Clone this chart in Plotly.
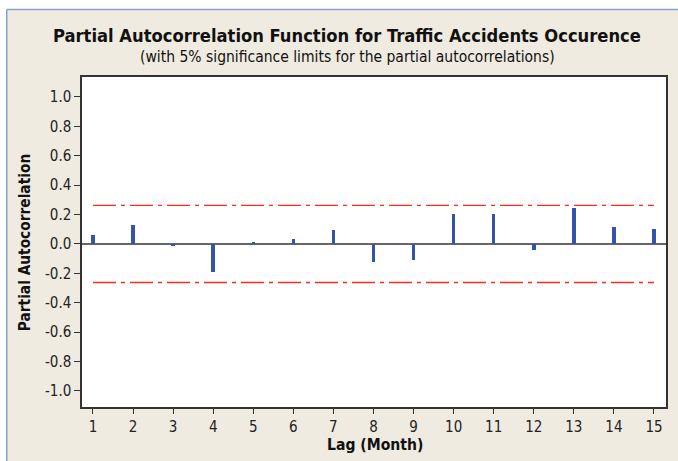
import plotly.graph_objects as go

lags = list(range(1, 16))
pacf = [0.061, 0.129, -0.016, -0.188, 0.009, 0.034, 0.093, -0.120, -0.106,
        0.203, 0.203, -0.038, 0.244, 0.118, 0.102]
sig_limit = 0.262
y_ticks = [1.0, 0.8, 0.6, 0.4, 0.2, 0.0, -0.2, -0.4, -0.6, -0.8, -1.0]
y_ticktext = ["1.0", "0.8", "0.6", "0.4", "0.2", "0.0", "-0.2", "-0.4", "-0.6", "-0.8", "-1.0"]

title = "Partial Autocorrelation Function for Traffic Accidents Occurence"
subtitle = "(with 5% significance limits for the partial autocorrelations)"
x_title = "Lag (Month)"
y_title = "Partial Autocorrelation"

FONT = "DejaVu Sans Condensed, DejaVu Sans, sans-serif"
BEIGE = "#efebe0"

fig = go.Figure()
fig.add_trace(go.Bar(x=lags, y=pacf, width=0.088,
                     marker=dict(color="#3553a8", line=dict(width=0)),
                     showlegend=False, hoverinfo="x+y"))
for s in (1, -1):
    fig.add_trace(go.Scatter(x=[lags[0], lags[-1]], y=[s * sig_limit, s * sig_limit],
                             mode="lines",
                             line=dict(color="#ff2a1a", width=1.3, dash="23px,5px,4px,5px"),
                             showlegend=False, hoverinfo="skip"))

W, H = 678, 461
L, R, T, B = 82, 10, 77, 54
pw, ph = W - L - R, H - T - B

def px(x):
    return (x - L) / pw

def py(y):
    return (H - B - y) / ph

shapes = [
    dict(type="rect", xref="paper", yref="paper", x0=px(-5), x1=px(W + 5), y0=py(9), y1=py(-5),
         fillcolor="white", line=dict(width=0), layer="below"),
    dict(type="rect", xref="paper", yref="paper", x0=px(-5), x1=px(6), y0=py(H + 5), y1=py(-5),
         fillcolor="white", line=dict(width=0), layer="below"),
    dict(type="line", xref="paper", yref="paper", x0=px(6.5), x1=px(W + 5), y0=py(9.5), y1=py(9.5),
         line=dict(color="#86a3cf", width=1.5)),
    dict(type="line", xref="paper", yref="paper", x0=px(6.5), x1=px(6.5), y0=py(9.5), y1=py(H + 5),
         line=dict(color="#86a3cf", width=1.5)),
]

annotations = [
    dict(text="<b>" + title + "</b>", x=px(348), y=py(35), xref="paper", yref="paper",
         showarrow=False, xanchor="center", yanchor="middle",
         font=dict(family=FONT, size=18.2, color="#111")),
    dict(text=subtitle, x=px(348), y=py(57), xref="paper", yref="paper",
         showarrow=False, xanchor="center", yanchor="middle",
         font=dict(family=FONT, size=15.5, color="#111")),
    dict(text="<b>" + x_title + "</b>", x=px(376), y=py(445), xref="paper", yref="paper",
         showarrow=False, xanchor="center", yanchor="middle",
         font=dict(family=FONT, size=15.6, color="#111")),
    dict(text="<b>" + y_title + "</b>", x=px(25), y=py(243), xref="paper", yref="paper",
         showarrow=False, xanchor="center", yanchor="middle", textangle=-90,
         font=dict(family=FONT, size=15.3, color="#111")),
]

fig.update_layout(
    width=W, height=H,
    margin=dict(l=L, r=R, t=T, b=B, pad=0),
    paper_bgcolor=BEIGE, plot_bgcolor="white",
    font=dict(family=FONT, size=15, color="#222"),
    shapes=shapes, annotations=annotations,
    bargap=0,
)
fig.update_xaxes(range=[0.726, 15.30], tickvals=lags, ticks="outside", ticklen=5,
                 tickcolor="#333", tickwidth=1.2, showgrid=False, zeroline=False,
                 showline=True, linecolor="#333", linewidth=1.5, mirror=True)
fig.update_yaxes(range=[-1.109, 1.136], tickvals=y_ticks, ticktext=y_ticktext,
                 ticks="outside", ticklen=6, tickcolor="#333", tickwidth=1.2,
                 showgrid=False, zeroline=True, zerolinecolor="#666", zerolinewidth=1.5,
                 showline=True, linecolor="#333", linewidth=1.5, mirror=True)

fig.write_html("out.html", config={"displayModeBar": False},
               post_script="document.body.style.margin='0px';")
